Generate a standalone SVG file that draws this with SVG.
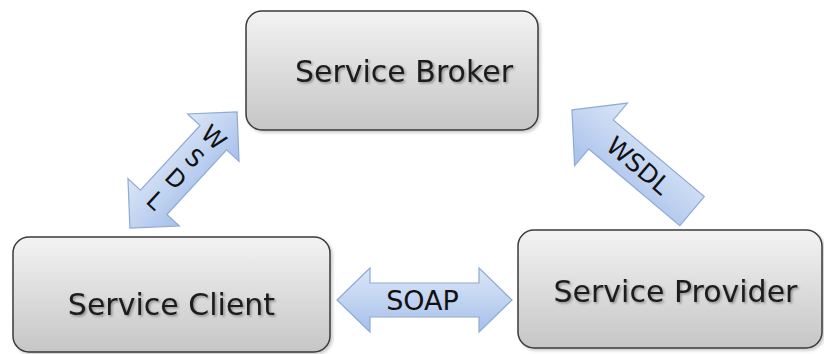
<svg xmlns="http://www.w3.org/2000/svg" width="824" height="354" viewBox="0 0 824 354">
  <defs>
    <linearGradient id="boxGrad" x1="0" y1="0" x2="0" y2="1">
      <stop offset="0" stop-color="#f3f3f3"/>
      <stop offset="1" stop-color="#c6c6c6"/>
    </linearGradient>
    <linearGradient id="arrowGrad" x1="0" y1="0" x2="0" y2="1">
      <stop offset="0" stop-color="#dce7f7"/>
      <stop offset="1" stop-color="#a6c0ea"/>
    </linearGradient>
    <filter id="textShadow" x="-10%" y="-30%" width="130%" height="170%">
      <feDropShadow dx="1.5" dy="1.5" stdDeviation="1" flood-color="#000" flood-opacity="0.35"/>
    </filter>
    <filter id="boxShadow" x="-5%" y="-5%" width="115%" height="120%">
      <feDropShadow dx="2" dy="2" stdDeviation="1.5" flood-color="#000" flood-opacity="0.2"/>
    </filter>
  </defs>
  <style>
    .box { fill: url(#boxGrad); stroke: #3a3a3a; stroke-width: 1.5; filter: url(#boxShadow); }
    .label { font-family: "DejaVu Sans", Verdana, sans-serif; font-size: 30px; fill: #1c1c1c; text-anchor: middle; filter: url(#textShadow); }
    .arrow { fill: url(#arrowGrad); stroke: #8faad6; stroke-width: 1.2; }
    .alabel { font-family: "DejaVu Sans", Verdana, sans-serif; fill: #111; text-anchor: middle; }
  </style>
  <rect width="824" height="354" fill="#ffffff"/>

  <g id="connectors">
    <g id="conn-client-broker" transform="translate(183.5,170) rotate(-47.3)">
      <polygon class="arrow" points="-79,0 -44,-35 -44,-18 44,-18 44,-35 79,0 44,35 44,18 -44,18 -44,35"/>
      <g class="alabel" font-size="24">
        <text x="44" y="0" dominant-baseline="central" transform="rotate(90 44 0)">W</text>
        <text x="16" y="0" dominant-baseline="central" transform="rotate(90 16 0)">S</text>
        <text x="-12" y="0" dominant-baseline="central" transform="rotate(90 -12 0)">D</text>
        <text x="-42" y="0" dominant-baseline="central" transform="rotate(90 -42 0)">L</text>
      </g>
    </g>
    <g id="conn-provider-broker" transform="translate(632,160.5) rotate(40.1)">
      <polygon class="arrow" points="-78.5,0 -40.5,-41 -40.5,-19 78.5,-19 78.5,19 -40.5,19 -40.5,41"/>
      <text class="alabel" font-size="25" x="8" y="0" dominant-baseline="central">WSDL</text>
    </g>
    <g id="conn-client-provider" transform="translate(424.5,300)">
      <polygon class="arrow" points="-87.5,0 -54.5,-32 -54.5,-17 54.5,-17 54.5,-32 87.5,0 54.5,32 54.5,17 -54.5,17 -54.5,32"/>
      <text class="alabel" font-size="27" x="-2" y="10">SOAP</text>
    </g>
  </g>

  <g id="node-broker">
    <rect class="box" x="246" y="11" width="292" height="119" rx="16" ry="16"/>
    <text class="label" x="404" y="82">Service Broker</text>
  </g>
  <g id="node-client">
    <rect class="box" x="13" y="237" width="317" height="115" rx="16" ry="16"/>
    <text class="label" x="171.5" y="315">Service Client</text>
  </g>
  <g id="node-provider">
    <rect class="box" x="518" y="230" width="304" height="118" rx="16" ry="16"/>
    <text class="label" x="675.5" y="302">Service Provider</text>
  </g>
</svg>
